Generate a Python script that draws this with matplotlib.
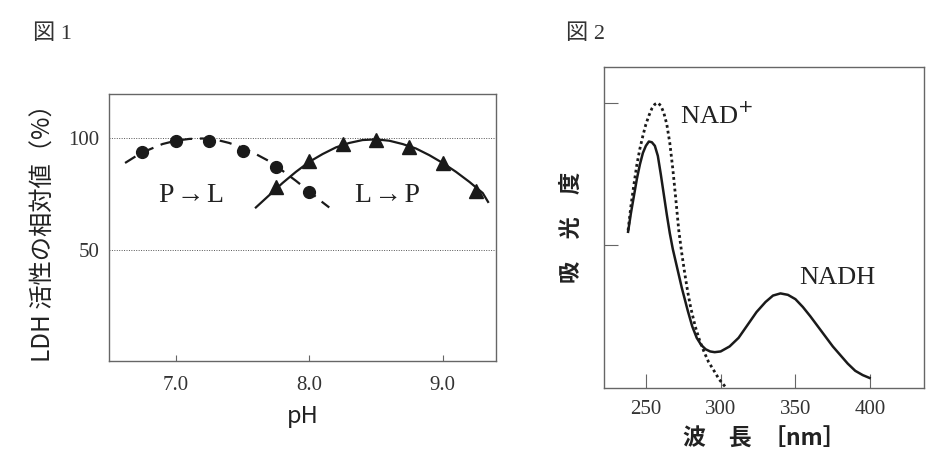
import matplotlib
matplotlib.use("Agg")
import matplotlib.pyplot as plt

SERIF = ["Liberation Serif", "Noto Sans CJK JP"]
GOTHIC = ["Noto Sans CJK JP", "DejaVu Sans"]
plt.rcParams["font.family"] = SERIF

# --- figure 1: LDH activity vs pH ---
ph_pts = [6.75, 7.0, 7.25, 7.5, 7.75, 8.0]
pl_pts = [94, 99, 99, 94.5, 87, 76]
ph_tri = [7.75, 8.0, 8.25, 8.5, 8.75, 9.0, 9.25]
lp_tri = [78, 90, 97.5, 99.5, 96, 89, 76.5]

pl_curve_x = [6.62, 6.7, 6.8, 6.9, 7.0, 7.1, 7.2, 7.3, 7.4, 7.5, 7.6, 7.7, 7.8, 7.9, 8.0, 8.1, 8.15]
pl_curve_y = [89, 92, 95, 97.5, 99, 99.8, 100, 99.5, 98, 95.8, 93, 89.8, 85.5, 81, 76.2, 71.3, 69]
lp_curve_x = [7.6, 7.7, 7.8, 7.9, 8.0, 8.1, 8.2, 8.3, 8.4, 8.5, 8.6, 8.7, 8.8, 8.9, 9.0, 9.1, 9.2, 9.3, 9.34]
lp_curve_y = [69, 74.5, 80, 85, 89.5, 93, 96, 98, 99.3, 99.6, 99, 97.5, 95.5, 92.5, 89, 85, 80.5, 75.5, 71.5]

# --- figure 2: absorbance spectra ---
nad_x = [238.1, 240, 242, 244, 246, 248, 250, 252, 254, 256, 258, 260, 262, 264, 266, 268,
         270, 272, 274, 276, 278, 280, 283, 286, 289, 292, 295, 299, 303]
nad_y = [1.10, 1.27, 1.42, 1.56, 1.67, 1.76, 1.84, 1.90, 1.95, 1.98, 1.99, 1.97, 1.92, 1.84, 1.71, 1.53,
         1.32, 1.10, 0.94, 0.80, 0.67, 0.56, 0.43, 0.33, 0.25, 0.18, 0.13, 0.06, 0.01]
nadh_x = [238.1, 240, 242, 244, 246, 248, 250, 252, 254, 256, 258, 260, 262, 264, 266, 268,
          270, 272, 274, 276, 278, 281, 284, 287, 290, 293, 296, 300, 306, 312, 318, 324,
          330, 335, 340, 345, 350, 355, 360, 365, 370, 375, 380, 385, 390, 395, 399.6]
nadh_y = [1.09, 1.22, 1.34, 1.46, 1.56, 1.64, 1.69, 1.72, 1.715, 1.69, 1.62, 1.49, 1.35, 1.21, 1.08, 0.97,
          0.88, 0.79, 0.70, 0.62, 0.54, 0.43, 0.35, 0.30, 0.27, 0.255, 0.25, 0.255, 0.29, 0.35, 0.44, 0.53,
          0.60, 0.645, 0.66, 0.65, 0.62, 0.565, 0.50, 0.43, 0.36, 0.29, 0.23, 0.17, 0.12, 0.09, 0.07]

fig = plt.figure(figsize=(9.36, 4.66), dpi=100)
ink = "#1a1a1a"
spine = "#666666"

ax1 = fig.add_axes([0.1165, 0.2253, 0.4135, 0.573])
ax1.plot(pl_curve_x, pl_curve_y, color=ink, lw=1.6, dashes=(5.5, 3.5))
ax1.plot(lp_curve_x, lp_curve_y, color=ink, lw=1.6)
ax1.plot(ph_pts, pl_pts, "o", color=ink, ms=8.5)
ax1.plot(ph_tri, lp_tri, "^", color=ink, ms=9.5)
ax1.set_xlim(6.5, 9.4)
ax1.set_ylim(0, 120)
ax1.set_xticks([7.0, 8.0, 9.0])
ax1.set_xticklabels(["7.0", "8.0", "9.0"])
ax1.set_yticks([50, 100])
ax1.set_yticklabels(["50", "100"])
for y in [50, 100]:
    ax1.axhline(y, color="#555555", lw=0.7, ls=(0, (1, 1.5)), zorder=0)
ax1.tick_params(axis="x", direction="in", length=4, color=spine, labelsize=15, pad=11, labelcolor="#333333")
ax1.tick_params(axis="y", length=0, labelsize=15, pad=7, labelcolor="#333333")
for s in ax1.spines.values():
    s.set_color(spine)
    s.set_linewidth(1.0)
ax1.text(7.115, 74.5, "P\u200a\u2192\u200aL", ha="center", va="center", fontsize=20, color="#222222")
ax1.text(8.59, 74.5, "L\u200a\u2192\u200aP", ha="center", va="center", fontsize=20, color="#222222")
ax1.set_xlabel("pH", family=GOTHIC, fontsize=17, labelpad=7, color="#222222")
ax1.set_ylabel("LDH 活性の相対値（%）", family=GOTHIC, fontsize=17.5, labelpad=8, color="#222222")

ax2 = fig.add_axes([0.6453, 0.1674, 0.3419, 0.6888])
ax2.plot(nad_x, nad_y, color=ink, lw=2.0, ls=(0, (1, 1.1)))
ax2.plot(nadh_x, nadh_y, color=ink, lw=1.8)
ax2.set_xlim(222, 436)
ax2.set_ylim(0, 2.24)
ax2.set_xticks([250, 300, 350, 400])
ax2.set_yticks([1.0, 1.99])
ax2.set_yticklabels([])
ax2.tick_params(axis="x", direction="in", length=10, color=spine, labelsize=15, pad=9, labelcolor="#333333")
ax2.tick_params(axis="y", direction="in", length=10, color=spine)
for s in ax2.spines.values():
    s.set_color(spine)
    s.set_linewidth(1.0)
ax2.text(272.5, 1.90, "NAD$^{+}$", ha="left", va="center", fontsize=19, color="#222222")
ax2.text(352.5, 0.77, "NADH", ha="left", va="center", fontsize=19, color="#222222")
ax2.set_xlabel("波\u3000長\u2002［nm］", family=GOTHIC, fontsize=16.5, fontweight="bold", labelpad=6, color="#222222")
ax2.set_ylabel("吸\u3000光\u3000度", family=GOTHIC, fontsize=16, fontweight="bold", labelpad=12, color="#222222")

fig.text(0.035, 0.927, "図 1", fontsize=16, va="center", ha="left", color="#333333")
fig.text(0.605, 0.927, "図 2", fontsize=16, va="center", ha="left", color="#333333")

fig.savefig("out.png", dpi=100, facecolor="white")
